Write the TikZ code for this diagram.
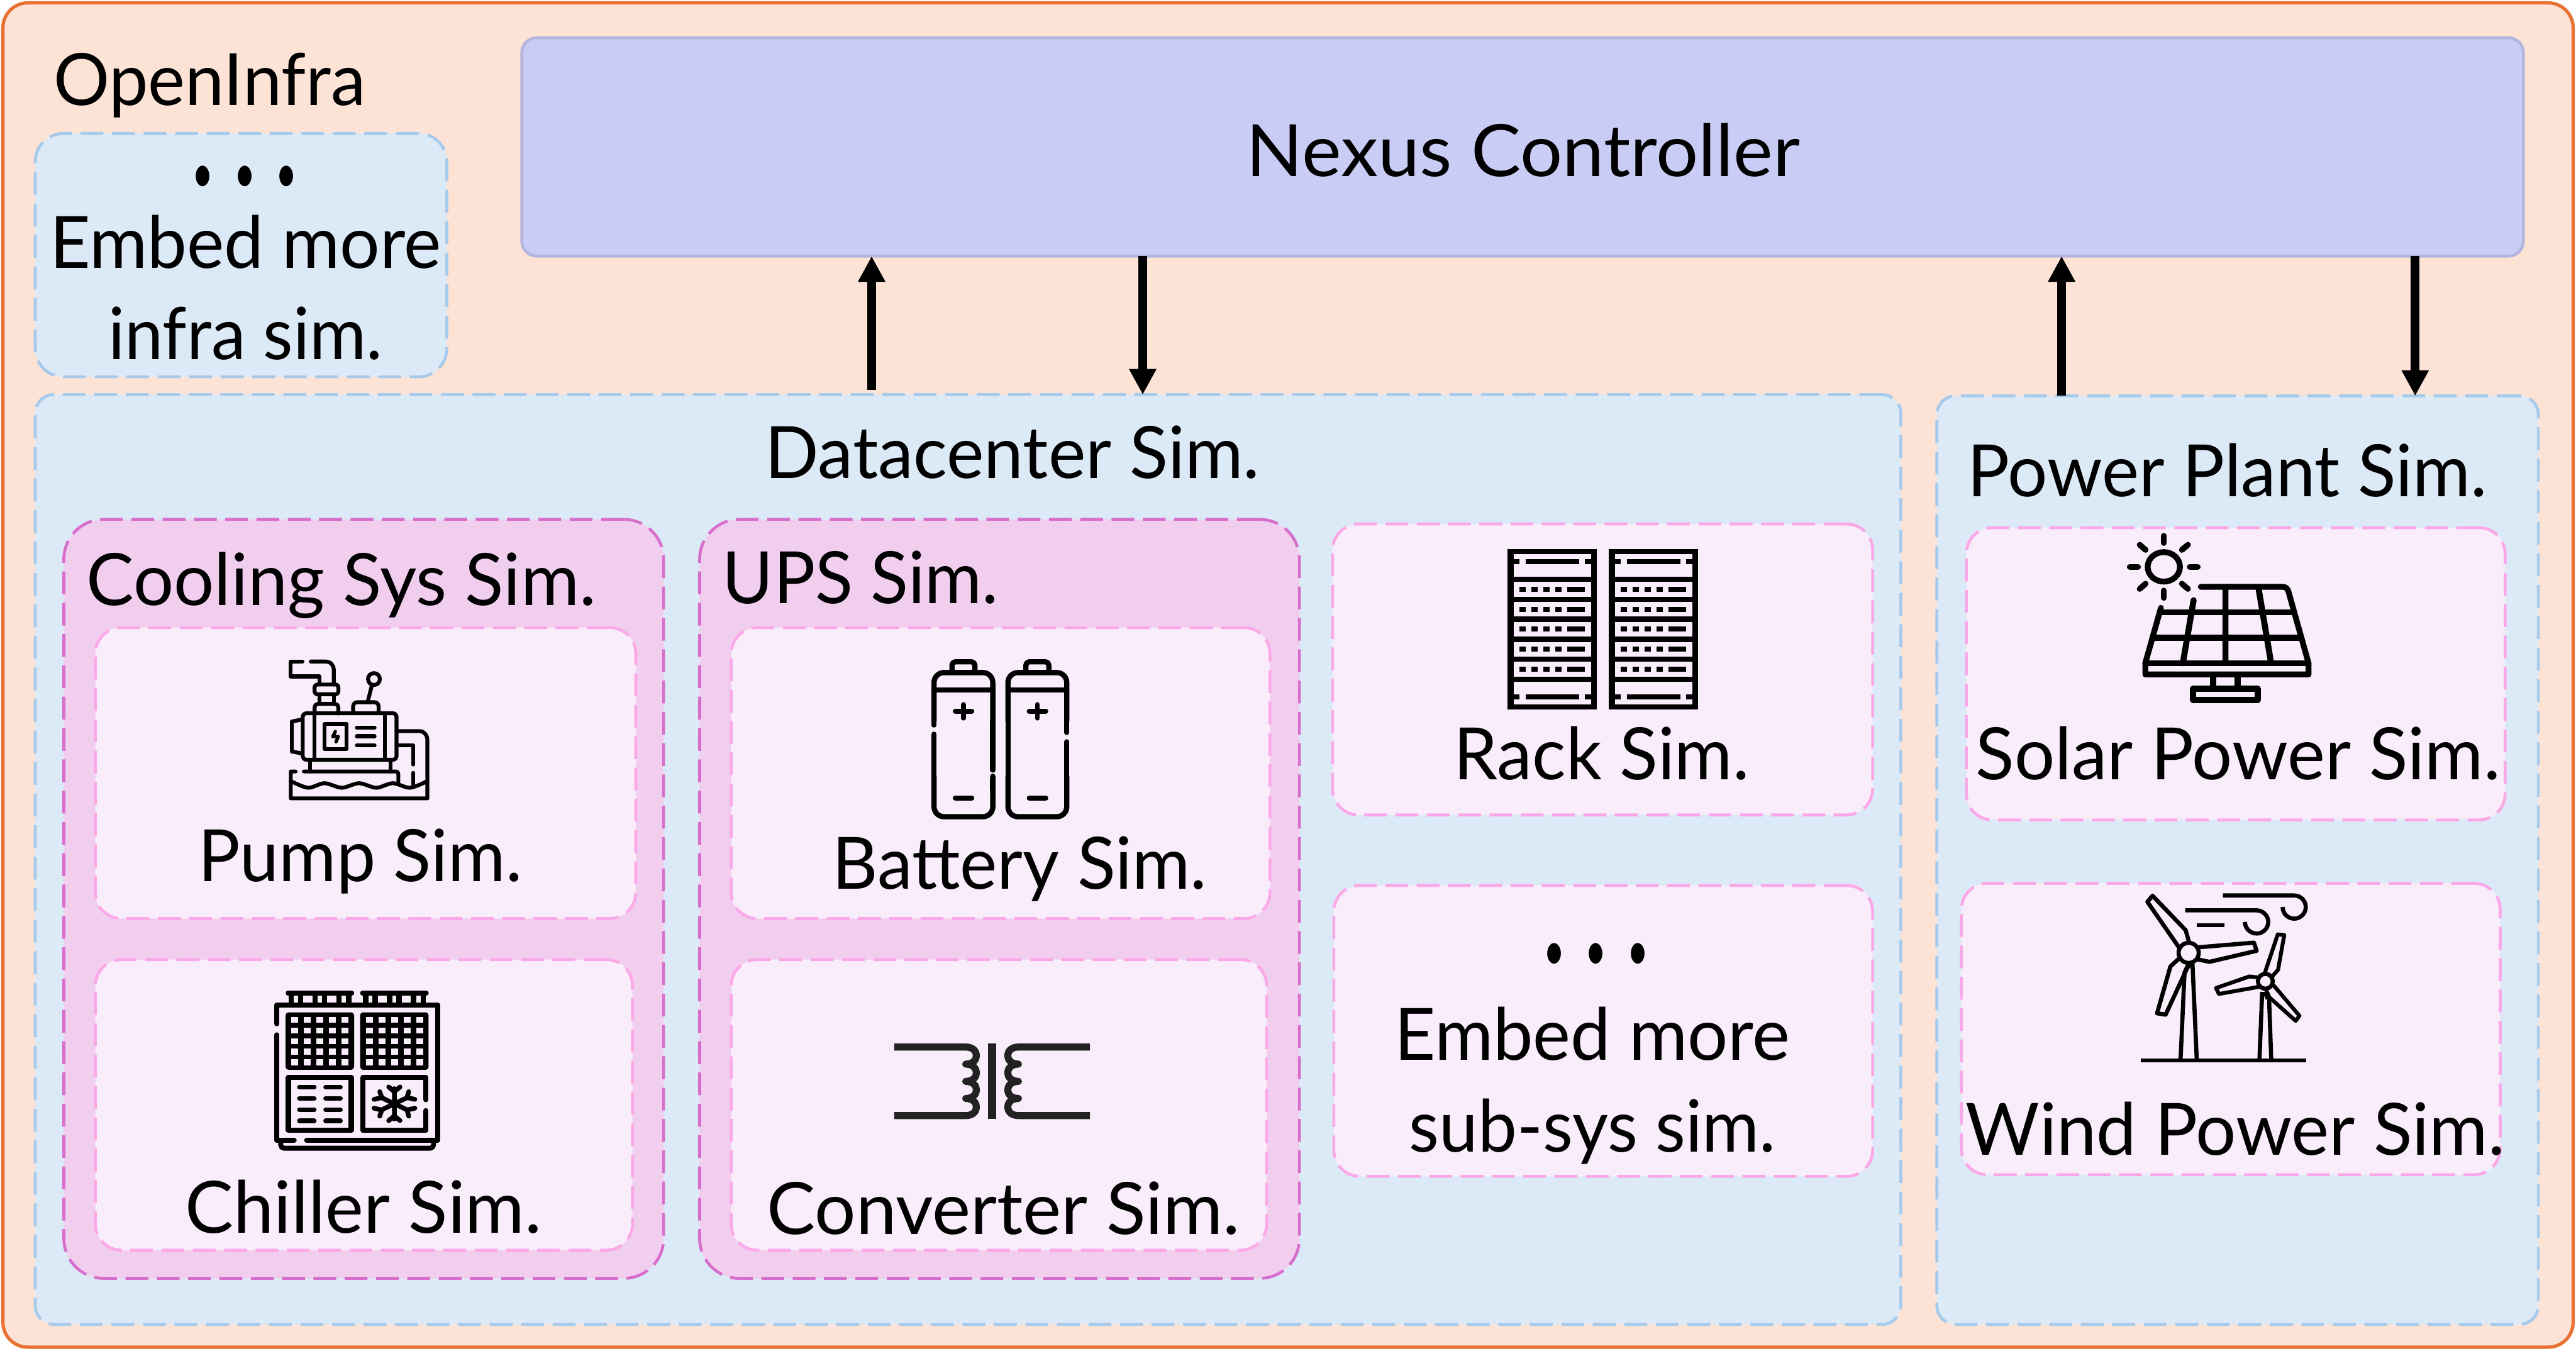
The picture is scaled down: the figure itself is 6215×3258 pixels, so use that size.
\documentclass[tikz,border=0pt]{standalone}
\usepackage{graphicx}
\usepackage{fontspec}
\setmainfont{Lato}
\usetikzlibrary{arrows.meta}
\definecolor{oline}{HTML}{E97132}
\definecolor{ofill}{HTML}{FCE3D6}
\definecolor{nfill}{HTML}{C9CCF4}
\definecolor{nline}{HTML}{B5B6DD}
\definecolor{bfill}{HTML}{DCE9F6}
\definecolor{bline}{HTML}{A6CAEC}
\definecolor{cfill}{HTML}{F2CEEE}
\definecolor{cline}{HTML}{D86ECC}
\definecolor{pfill}{HTML}{F9ECFB}
\definecolor{pline}{HTML}{FBA8E8}
\definecolor{coil}{HTML}{222222}
\tikzset{
  boxbase/.style={rectangle,inner sep=0pt,outer sep=0pt,draw},
  outerbox/.style={boxbase,fill=ofill,draw=oline,line width=.08cm,rounded corners=.6cm},
  nexusbox/.style={boxbase,fill=nfill,draw=nline,line width=.07cm,rounded corners=.36cm},
  bluebox/.style={boxbase,fill=bfill,draw=bline,line width=.07cm,dash pattern=on .55cm off .21cm},
  groupbox/.style={boxbase,fill=cfill,draw=cline,line width=.07cm,rounded corners=.96cm,dash pattern=on .55cm off .205cm},
  simbox/.style={boxbase,fill=pfill,draw=pline,line width=.07cm,rounded corners=.63cm,dash pattern=on .55cm off .205cm},
  txt/.style={inner sep=0pt,outer sep=0pt,anchor=base west,text=black},
  flow/.style={line width=.21cm,-{Triangle[length=.62cm,width=.62cm]}},
  ic/.style={line width=#1*0.003333cm,line cap=round,line join=round,draw=black},
  zoomed/.style={x=0.003333cm,y=-0.003333cm}
}
\newcommand{\bx}[6]{\node[#2,minimum width={(#5-#3)*0.01cm},minimum height={(#6-#4)*0.01cm}] (#1) at ({(#3+#5)/2},{(#4+#6)/2}) {};}
\newcommand{\lbl}[5]{\node[txt] (#1) at (#2-5,#4+1) {\resizebox{\dimexpr 0.01cm*#3+0.08cm\relax}{\height}{\fontsize{49.5pt}{59pt}\selectfont #5}};}
\newcommand{\dts}[4]{\node[txt] (#1) at (#2,#4) {\resizebox{\dimexpr 0.01cm*#3\relax}{\height}{\fontsize{38pt}{42pt}\selectfont •\hspace{.55em}•\hspace{.55em}•}};}
\begin{document}
\begin{tikzpicture}[x=0.01cm,y=-0.01cm]
\useasboundingbox (0,0) rectangle (6215,3258);
\fill[white] (0,0) rectangle (6215,3258);
\bx{infra}{outerbox}{7}{7}{6208}{3250}
\bx{nexus}{nexusbox}{1259}{91}{6088}{618}
\bx{more}{bluebox,rounded corners=.68cm}{85}{322}{1078}{909}
\bx{dc}{bluebox,rounded corners=.45cm}{85}{952}{4586}{3195}
\bx{pp}{bluebox,rounded corners=.45cm}{4673}{955}{6124}{3195}
\bx{cool}{groupbox}{154}{1253}{1601}{3084}
\bx{ups}{groupbox}{1688}{1253}{3135}{3084}
\bx{pump}{simbox}{230}{1514}{1534}{2216}
\bx{chil}{simbox}{230}{2315}{1526}{3016}
\bx{batt}{simbox}{1764}{1514}{3064}{2216}
\bx{conv}{simbox}{1764}{2315}{3056}{3016}
\bx{rack}{simbox}{3215}{1264}{4518}{1966}
\bx{subm}{simbox}{3218}{2136}{4518}{2838}
\bx{sol}{simbox}{4744}{1273}{6044}{1978}
\bx{wind}{simbox}{4732}{2131}{6032}{2834}
% connectors
\coordinate (a1) at (2103,0);
\coordinate (a2) at (2757,0);
\coordinate (a3) at (4974,0);
\coordinate (a4) at (5827,0);
\draw[flow,shorten <=.11cm] (a1 |- dc.north) -- (a1 |- nexus.south);
\draw[flow] (a2 |- nexus.south) -- (a2 |- dc.north);
\draw[flow] (a3 |- pp.north) -- (a3 |- nexus.south);
\draw[flow] (a4 |- nexus.south) -- (a4 |- pp.north);
% pump icon
\begin{scope}[shift={(600,1540)},zoomed]
\draw[ic=28] (390,168)--(305,168)--(305,276)--(512,276)--(512,335);
\draw[ic=28] (450,168)--(555,168) .. controls (595,168) and (617,195) .. (617,230)--(617,335);
\draw[ic=28,rounded corners=.06cm] (478,335) rectangle (650,405);
\draw[ic=28] (512,405)--(512,475) (617,405)--(617,475);
\draw[ic=28,rounded corners=.08cm] (478,545)--(478,475)--(650,475)--(650,545);
\draw[ic=28,rounded corners=.09cm] (392,543) rectangle (1072,880);
\draw[ic=28] (478,545)--(478,880) (987,545)--(987,880);
\draw[ic=28] (378,590)--(313,603)--(313,820)--(378,833);
\draw[ic=28] (551,620) rectangle (710,802);
\draw[ic=24] (628,675)--(610,712)--(650,712)--(633,750);
\draw[ic=30] (785,648)--(912,648) (785,710)--(912,710) (785,775)--(912,775);
\draw[ic=28,rounded corners=.1cm] (757,543)--(757,463)--(942,463)--(942,543);
\draw[ic=28] (862,463)--(892,345);
\draw[ic=28] (908,295) circle[radius=43];
\draw[ic=28] (445,880)--(445,965) (1029,880)--(1029,965);
\draw[ic=28] (340,965)--(305,965)--(305,1160)--(1295,1160)--(1295,735) .. controls (1295,700) and (1270,672) .. (1238,672)--(1072,672);
\draw[ic=28,rounded corners=.06cm] (400,965)--(1085,965)--(1085,1050);
\draw[ic=28] (1072,775)--(1192,775)--(1192,915) (1192,975)--(1192,1070);
\draw[ic=28] plot[smooth] coordinates {(305,1035) (430,1083) (550,1050) (675,1083) (800,1050) (925,1083) (1045,1050) (1170,1083) (1295,1035)};
\end{scope}
% chiller icon
\begin{scope}[shift={(600,2340)},zoomed]
\draw[ic=36] (203,390)--(203,253)--(1370,253)--(1370,1235)--(420,1235) (330,1235)--(203,1235)--(203,470);
\draw[ic=36,rounded corners=.08cm] (232,1240)--(232,1292)--(1340,1292)--(1340,1240);
\draw[ic=34] (285,167)--(748,167) (825,167)--(1288,167);
\foreach \vx in {308,376,481,550,655,725,848,917,1022,1091,1196,1265} \draw[line width=40*0.003333cm] (\vx,167)--(\vx,253);
\foreach \gx/\sx in {268/40,808/41}{
  \fill[black,rounded corners=.07cm] (\gx,307) rectangle (\gx+496,724);
  \foreach \hx in {0,91,182,274,365} \foreach \hy in {340,417,494,571,648}
    \fill[pfill] (\gx+\sx+\hx,\hy) rectangle (\gx+\sx+\hx+52,\hy+44);
}
\draw[ic=38] (288,780) rectangle (744,1163);
\draw[ic=34] (368,849)--(475,849) (558,849)--(665,849) (368,931)--(475,931) (558,931)--(665,931) (368,1013)--(475,1013) (558,1013)--(665,1013) (368,1094)--(475,1094) (558,1094)--(665,1094);
\draw[ic=38] (1285,940)--(1285,780)--(828,780)--(828,1163)--(1285,1163)--(1285,1020);
\draw[ic=34] (1056,860)--(1056,1080) (962,925)--(1150,1015) (1150,925)--(962,1015);
\draw[ic=34] (1015,848)--(1056,882)--(1097,848) (1015,1092)--(1056,1058)--(1097,1092);
\draw[ic=34] (1160,882)--(1148,925)--(1205,938) (1160,1060)--(1148,1015)--(1205,1002);
\draw[ic=34] (950,882)--(965,925)--(908,938) (950,1060)--(965,1015)--(908,1002);
\end{scope}
% battery icon
\begin{scope}[shift={(2150,1540)},zoomed]
\foreach \bo in {0,536}{
 \begin{scope}[xshift=\bo*0.003333cm]
 \draw[ic=38,rounded corners=.24cm] (311,1000)--(311,1293)--(737,1293)--(737,1000);
 \draw[ic=38,rounded corners=.24cm] (311,600)--(311,248)--(737,248)--(737,600);
 \draw[ic=38,rounded corners=.08cm] (441,240)--(441,170)--(607,170)--(607,240);
 \draw[ic=38,line cap=butt] (311,373)--(737,373);
 \draw[ic=36] (465,528)--(585,528) (524,480)--(524,578) (465,1157)--(585,1157);
 \end{scope}
}
% side segments with gaps
\draw[ic=38] (311,600)--(311,628) (311,695)--(311,1000) (737,600)--(737,955) (737,1022)--(737,1100);
\draw[ic=38] (847,600)--(847,1000) (1273,600)--(1273,682) (1273,750)--(1273,1000);
\end{scope}
% converter icon
\begin{scope}[shift={(2100,2450)},x=0.003827cm,y=-0.003333cm]
\draw[line width=.17cm,draw=coil,line join=round] (150,228)--(600,228)
  .. controls (690,228) and (690,352) .. (600,352)
  .. controls (690,352) and (690,477) .. (600,477)
  .. controls (690,477) and (690,601) .. (600,601)
  .. controls (690,601) and (690,725) .. (600,725)--(150,725);
\draw[line width=.17cm,draw=coil,line join=round] (1382,228)--(932,228)
  .. controls (842,228) and (842,352) .. (932,352)
  .. controls (842,352) and (842,477) .. (932,477)
  .. controls (842,477) and (842,601) .. (932,601)
  .. controls (842,601) and (842,725) .. (932,725)--(1382,725);
\draw[line width=.2cm,draw=coil] (766,204)--(766,750);
\end{scope}
% rack icon
\begin{scope}[shift={(3600,1290)},x=0.00338cm,y=-0.003333cm]
\foreach \rx in {0,720}{
 \fill[black] (\rx+110,105) rectangle (\rx+747,1266);
 \foreach \ya/\yb in {142/303,342/449,487/594,632/739,777/884,922/1029,1067/1230}
   \fill[pfill] (\rx+154,\ya) rectangle (\rx+704,\yb);
 \foreach \yb in {177,1157}{
   \fill[black] (\rx+154,\yb) rectangle (\rx+196,\yb+36);
   \fill[black] (\rx+238,\yb) rectangle (\rx+619,\yb+36);
   \fill[black] (\rx+662,\yb) rectangle (\rx+704,\yb+36);
 }
 \foreach \yb in {377,522,667,813,958}{
   \foreach \xb in {196,280,365,450} \fill[black] (\rx+\xb,\yb) rectangle (\rx+\xb+43,\yb+36);
   \fill[black] (\rx+535,\yb) rectangle (\rx+662,\yb+36);
 }
}
\end{scope}
% solar icon
\begin{scope}[shift={(5100,1270)},zoomed]
\draw[ic=42] (362,293) ellipse[x radius=117,y radius=107];
\draw[ic=42] (362,68)--(362,120) (362,465)--(362,518) (115,293)--(175,293) (550,293)--(608,293);
\draw[ic=42] (187,133)--(230,170) (537,133)--(493,170) (187,453)--(230,415) (537,453)--(493,415);
\draw[ic=42] (630,438)--(1225,438) .. controls (1245,438) and (1258,450) .. (1265,470)--(1411,990)--(1411,1073)--(228,1073)--(228,990)--(341,590);
\draw[ic=42] (228,992)--(1411,992);
\draw[ic=42] (345,622)--(1295,622) (280,807)--(1345,807);
\draw[ic=44,line cap=butt] (809,438)--(809,992) (1047,438)--(1140,992);
\draw[ic=44] (578,535)--(500,992);
\draw[ic=44,line cap=butt] (719,1073)--(719,1175) (898,1073)--(898,1175);
\draw[ic=42] (574,1176) rectangle (1043,1258);
\end{scope}
% wind icon
\begin{scope}[shift={(5120,2130)},zoomed]
\draw[ic=30,line cap=butt] (135,1287)--(1332,1287);
\draw[ic=30,line cap=butt] (730,91)--(1247,91) .. controls (1293,91) and (1331,129) .. (1331,175) .. controls (1331,221) and (1293,259) .. (1247,259) .. controls (1201,259) and (1163,221) .. (1163,175);
\draw[ic=30,line cap=butt] (457,199)--(975,199) .. controls (1021,199) and (1059,237) .. (1059,283) .. controls (1059,329) and (1021,367) .. (975,367) .. controls (929,367) and (890,329) .. (890,283);
\draw[ic=30,line cap=butt] (541,307)--(743,307);
\draw[ic=30] (482,507) circle[radius=73];
\draw[ic=30] (410,465)--(183,137)--(220,93)--(460,342)--(485,430);
\draw[ic=30] (548,467)--(955,433)--(975,492)--(633,572)--(550,555);
\draw[ic=30] (410,550)--(350,605)--(253,945)--(315,955)--(470,620)--(490,590);
\draw[ic=30,line cap=butt] (480,590)--(452,650)--(423,1287) (510,590)--(541,1287);
\draw[ic=30] (1038,713) circle[radius=54];
\draw[ic=28] (1035,650)--(1128,373)--(1175,378)--(1130,630)--(1090,675);
\draw[ic=28] (985,685)--(922,678)--(680,762)--(702,805)--(998,752);
\draw[ic=28] (1100,745)--(1285,963)--(1258,1000)--(1068,830)--(1045,780);
\draw[ic=30,line cap=butt] (1015,790)--(995,1287) (1065,840)--(1081,1287) (1035,790)--(1055,840);
\end{scope}
% labels
\lbl{topinf}{134}{745}{253}{OpenInfra}
\dts{dots1}{464}{253}{465}
\lbl{em1}{125}{937}{646}{Embed more}
\lbl{is1}{266}{654}{866}{infra sim.}
\lbl{nxt}{3012}{1328}{424}{Nexus Controller}
\lbl{dct}{1851}{1185}{1153}{Datacenter Sim.}
\lbl{cot}{214}{1221}{1459}{Cooling Sys Sim.}
\lbl{upt}{1748}{658}{1455}{UPS Sim.}
\lbl{put}{484}{772}{2125}{Pump Sim.}
\lbl{cht}{452}{852}{2973}{Chiller Sim.}
\lbl{bat}{2013}{896}{2144}{Battery Sim.}
\lbl{cvt}{1855}{1134}{2977}{Converter Sim.}
\lbl{rat}{3512}{705}{1879}{Rack Sim.}
\dts{dots2}{3724}{253}{2340}
\lbl{em2}{3369}{947}{2557}{Embed more}
\lbl{sub}{3405}{876}{2778}{sub-sys sim.}
\lbl{ppt}{4752}{1245}{1197}{Power Plant Sim.}
\lbl{sot}{4772}{1257}{1879}{Solar Power Sim.}
\lbl{wit}{4748}{1292}{2786}{Wind Power Sim.}
\end{tikzpicture}
\end{document}
